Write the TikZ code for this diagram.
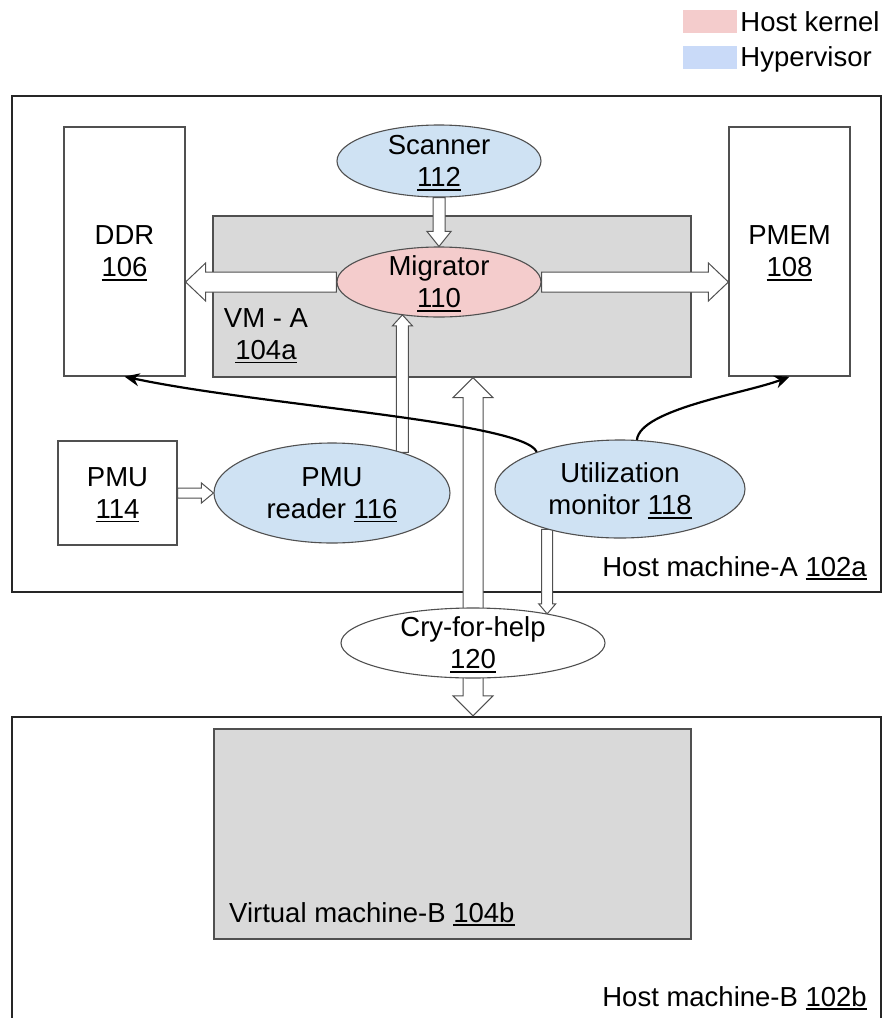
\documentclass[tikz,border=0pt]{standalone}
\usepackage{fontspec}
\setmainfont{Liberation Sans}
\usepackage{tikz}
\usetikzlibrary{shapes.geometric,arrows.meta,positioning,calc}
\definecolor{kernelred}{RGB}{244,204,204}
\definecolor{hyperblue}{RGB}{207,226,243}
\definecolor{keyblue}{RGB}{201,218,248}
\definecolor{vmgray}{RGB}{217,217,217}
\definecolor{edgegray}{RGB}{80,80,80}
\pgfdeclarelayer{background}
\pgfdeclarelayer{arrows}
\pgfsetlayers{background,arrows,main}
\newcommand{\refnum}[1]{\setbox0\hbox{#1}\rlap{\smash{\rule[-4pt]{\wd0}{1.8pt}}}\box0}

\begin{document}
\begin{tikzpicture}[x=1pt, y=-1pt,
    every node/.style={font=\fontsize{27.5}{32}\selectfont, inner sep=0pt},
    hostbox/.style={draw=black!85, line width=2.2pt},
    vmbox/.style={draw=edgegray, line width=1.2pt, fill=vmgray},
    membox/.style={draw=edgegray, line width=1.2pt, fill=white, align=center},
    kernel/.style={ellipse, draw=edgegray, line width=1.1pt, fill=kernelred, align=center, inner sep=-4pt},
    hyper/.style={ellipse, draw=edgegray, line width=1.1pt, fill=hyperblue, align=center, inner sep=-4pt},
    helpnode/.style={ellipse, draw=edgegray, line width=1.1pt, fill=white, align=center, inner sep=-4pt},
    alongarrow/.style={shift={(\tikztostart)}, rotate=\n2},
    hollow arrow/.style n args={3}{draw=edgegray, line width=1pt, fill=white,
      to path={let \p1=($(\tikztotarget)-(\tikztostart)$), \n1={veclen(\x1,\y1)}, \n2={atan2(\y1,\x1)} in
        ([alongarrow]0pt,#1) -- ([alongarrow]\n1-#3,#1) -- ([alongarrow]\n1-#3,#2) -- ([alongarrow]\n1,0pt)
        -- ([alongarrow]\n1-#3,-#2) -- ([alongarrow]\n1-#3,-#1) -- ([alongarrow]0pt,-#1) -- cycle}},
    hollow twoway/.style n args={3}{draw=edgegray, line width=1pt, fill=white,
      to path={let \p1=($(\tikztotarget)-(\tikztostart)$), \n1={veclen(\x1,\y1)}, \n2={atan2(\y1,\x1)} in
        ([alongarrow]#3,#1) -- ([alongarrow]\n1-#3,#1) -- ([alongarrow]\n1-#3,#2) -- ([alongarrow]\n1,0pt)
        -- ([alongarrow]\n1-#3,-#2) -- ([alongarrow]\n1-#3,-#1) -- ([alongarrow]#3,-#1) -- ([alongarrow]#3,-#2)
        -- ([alongarrow]0pt,0pt) -- ([alongarrow]#3,#2) -- cycle}},
    monitorline/.style={line width=2.2pt, -{Stealth[length=15pt,width=13pt]}}]
    \useasboundingbox (0,0) rectangle (883,1018);

    % legend
    \node[fill=kernelred, minimum width=54pt, minimum height=23pt] (kernelkey) at (710,21.5) {};
    \node[right=3pt of kernelkey] (kerneltext) {Host kernel};
    \node[fill=keyblue, minimum width=54pt, minimum height=23pt] (hyperkey) at (710,57.5) {};
    \node[right=3pt of hyperkey, yshift=-2pt] (hypertext) {Hypervisor};

    % host machines and VMs
    \begin{pgfonlayer}{background}
    \node[hostbox, minimum width=869pt, minimum height=496pt] (hosta) at (446.5,344) {};
    \node[hostbox, minimum width=869pt, minimum height=313pt] (hostb) at (446.5,873.5) {};
    \node[vmbox, minimum width=478pt, minimum height=161pt] (vma) at (452,296.5) {};
    \node[vmbox, minimum width=477pt, minimum height=210pt] (vmb) at (452.5,834) {};
    \end{pgfonlayer}
    \node[align=center] (vmalabel) at (266,334) {VM - A\\\refnum{104a}};
    \node[anchor=base west] (vmblabel) at (229,922) {Virtual machine-B \refnum{104b}};
    \node[anchor=base east] (hostalabel) at (867,576) {Host machine-A \refnum{102a}};
    \node[anchor=base east] (hostblabel) at (867,1006) {Host machine-B \refnum{102b}};

    % memory and PMU
    \node[membox, minimum width=121pt, minimum height=249pt] (ddr) at (124.5,251.5) {DDR\\\refnum{106}};
    \node[membox, minimum width=121pt, minimum height=249pt] (pmem) at (789.5,251.5) {PMEM\\\refnum{108}};
    \node[membox, minimum width=119pt, minimum height=104pt] (pmu) at (117.5,493) {PMU\\\refnum{114}};

    % components
    \node[hyper, minimum width=204pt, minimum height=72pt] (scanner) at (439,161) {Scanner\\\refnum{112}};
    \node[kernel, minimum width=204pt, minimum height=70pt] (migrator) at (439,282) {Migrator\\\refnum{110}};
    \node[hyper, minimum width=236pt, minimum height=100pt] (reader) at (332,493) {PMU\\reader \refnum{116}};
    \node[hyper, minimum width=250pt, minimum height=98pt] (util) at (620,489) {Utilization\\monitor \refnum{118}};
    \node[helpnode, minimum width=264pt, minimum height=70pt] (cry) at (473,643) {Cry-for-help\\\refnum{120}};

    % block arrows
    \begin{pgfonlayer}{arrows}
    \draw[hollow arrow={6pt}{12pt}{15pt}] (scanner.south) to (migrator.north);
    \draw[hollow arrow={10pt}{19pt}{20pt}] (migrator.west) to (migrator.west -| ddr.east);
    \draw[hollow arrow={10pt}{19pt}{20pt}] (migrator.east) to (migrator.east -| pmem.west);
    \draw[hollow arrow={5pt}{10pt}{12pt}] (pmu.east) to (reader.west);
    \draw[hollow arrow={6pt}{10pt}{11pt}] (reader.30) to (reader.30 |- migrator.220);
    \draw[hollow arrow={5.5pt}{8.5pt}{10pt}] (util.209) to (util.209 |- cry.21);
    \draw[hollow twoway={10pt}{20pt}{20pt}] (cry.north |- vma.south) to (cry.south |- hostb.north);
    \end{pgfonlayer}

    % utilization feedback
    \draw[monitorline] (util.156) to[out=113, in=-12, out looseness=0.2, in looseness=0.85] (ddr.south);
    \draw[monitorline] (util.71) to[out=84, in=201, out looseness=0.48, in looseness=0.71] (pmem.south);
\end{tikzpicture}
\end{document}
